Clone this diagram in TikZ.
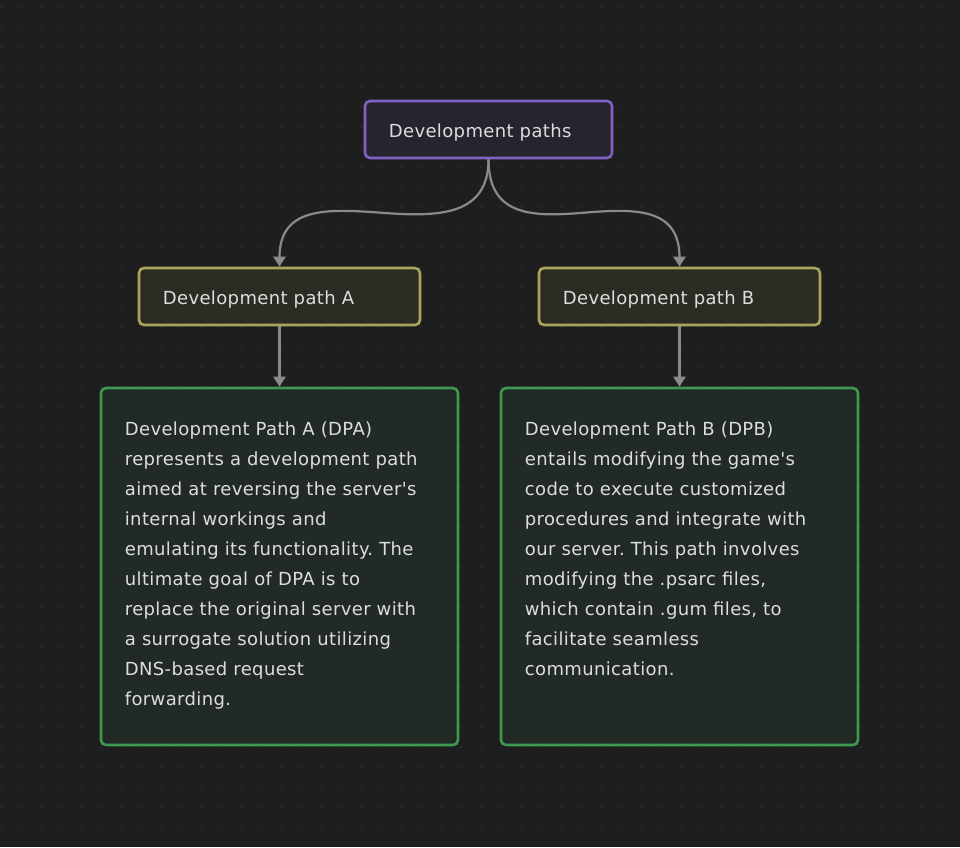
\documentclass[tikz,border=0pt]{standalone}
\usepackage{fontspec}
\newfontfamily\uifont{DejaVu Sans}[LetterSpace=2]
\usetikzlibrary{arrows.meta}
\frenchspacing
\definecolor{bg}{HTML}{1E1E1E}
\definecolor{dotc}{HTML}{363636}
\definecolor{edgec}{HTML}{8A8A8A}
\definecolor{txt}{HTML}{DDDDDD}
\definecolor{purpB}{HTML}{7F62C3}
\definecolor{purpF}{HTML}{28242F}
\definecolor{yelB}{HTML}{A9A55A}
\definecolor{yelF}{HTML}{2D2C24}
\definecolor{grnB}{HTML}{3D9A50}
\definecolor{grnF}{HTML}{212A24}
\tikzset{
  boxbase/.style={draw, line width=2.6pt, rounded corners=5pt, inner sep=0pt},
  rootbox/.style={boxbase, draw=purpB, fill=purpF, minimum width=247pt, minimum height=57pt},
  pathbox/.style={boxbase, draw=yelB, fill=yelF, minimum width=281pt, minimum height=57pt},
  descbox/.style={boxbase, draw=grnB, fill=grnF, minimum width=357pt, minimum height=357pt},
  lbl/.style={text=txt, font=\uifont\fontsize{18pt}{30pt}\selectfont\frenchspacing, inner sep=0pt, anchor=base west},
  para/.style={text=txt, font=\uifont\fontsize{18pt}{30pt}\selectfont\frenchspacing, inner sep=0pt, anchor=north west, align=left},
  conn/.style={draw=edgec, line width=2.2pt, -{Triangle[width=12pt,length=10pt]}},
}
\begin{document}
\begin{tikzpicture}[x=1pt,y=-1pt]
\fill[bg] (0,0) rectangle (960,847);
\useasboundingbox (0,0) rectangle (960,847);
\foreach \i in {0,...,48}{\foreach \j in {0,...,41}{\fill[dotc] (20*\i+1,20*\j+7) circle (0.9pt);}}
\node[rootbox] (root) at (488.5,129.5) {};
\node[lbl] (rootlbl) at ([xshift=25pt,yshift=-8pt]root.west) {Development paths};
\node[pathbox] (pa) at (279.5,296.5) {};
\node[lbl] (palbl) at ([xshift=25pt,yshift=-8pt]pa.west) {Development path A};
\node[pathbox] (pb) at (679.5,296.5) {};
\node[lbl] (pblbl) at ([xshift=25pt,yshift=-8pt]pb.west) {Development path B};
\node[descbox] (da) at (279.5,566.5) {};
\node[descbox] (db) at (679.5,566.5) {};
\node[para] (datext) at ([shift={(25pt,-35pt)}]da.north west) {Development Path A (DPA)\\represents a development path\\aimed at reversing the server's\\internal workings and\\emulating its functionality. The\\ultimate goal of DPA is to\\replace the original server with\\a surrogate solution utilizing\\DNS-based request\\forwarding.};
\node[para] (dbtext) at ([shift={(25pt,-35pt)}]db.north west) {Development Path B (DPB)\\entails modifying the game's\\code to execute customized\\procedures and integrate with\\our server. This path involves\\modifying the .psarc files,\\which contain .gum files, to\\facilitate seamless\\communication.};
\draw[conn] (root.south) .. controls (488.5,215) and (440,217) .. (385,213) .. controls (330,209) and (279.5,205) .. (pa.north);
\draw[conn] (root.south) .. controls (488.5,215) and (530,217) .. (580,213) .. controls (630,209) and (679.5,205) .. (pb.north);
\draw[conn] (pa.south) -- (da.north);
\draw[conn] (pb.south) -- (db.north);
\end{tikzpicture}
\end{document}
